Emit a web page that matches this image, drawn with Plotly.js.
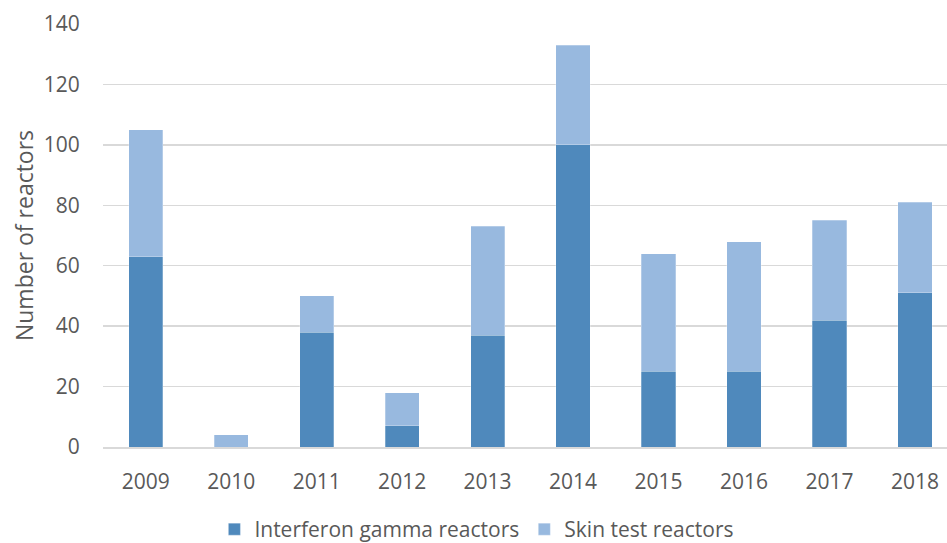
<!DOCTYPE html>
<html>
<head>
<meta charset="utf-8">
<script src="https://cdn.plot.ly/plotly-3.0.1.min.js"></script>
<style>html,body{margin:0;padding:0;background:#fff;}#chart{width:947px;height:543px;}</style>
</head>
<body>
<div id="chart"></div>
<script>
var years = ["2009","2010","2011","2012","2013","2014","2015","2016","2017","2018"];
var interferonGamma = [63, 0, 38, 7, 37, 100, 25, 25, 42, 51];
var skinTest = [42, 4, 12, 11, 36, 33, 39, 43, 33, 30];
var yTicks = [0, 20, 40, 60, 80, 100, 120, 140];

var fontFam = '"Open Sans", "Noto Sans", sans-serif';
var traces = [
  {type:'bar', name:'Interferon gamma reactors', x:years, y:interferonGamma,
   marker:{color:'#4f89bc', line:{color:'rgba(255,255,255,0.35)', width:0.75}}, width:0.4},
  {type:'bar', name:'Skin test reactors', x:years, y:skinTest,
   marker:{color:'#98b9df', line:{color:'rgba(255,255,255,0.35)', width:0.75}}, width:0.4}
];
var layout = {
  width:947, height:543,
  margin:{l:103, r:0, t:24, b:96, autoexpand:false},
  barmode:'stack',
  paper_bgcolor:'#fff', plot_bgcolor:'#fff',
  font:{family:fontFam, color:'#595959', size:20},
  xaxis:{type:'category', range:[-0.5, 9.375], showgrid:false,
    showline:true, linecolor:'#d9d9d9', linewidth:1.5,
    ticks:'outside', ticklen:15, tickcolor:'rgba(0,0,0,0)',
    tickfont:{size:21, color:'#595959'}, fixedrange:true},
  yaxis:{range:[0,140], tickvals:yTicks, showgrid:true, gridcolor:'#d9d9d9', gridwidth:1.5,
    zeroline:false, showline:false,
    ticks:'outside', ticklen:18, tickcolor:'rgba(0,0,0,0)',
    tickfont:{size:21, color:'#595959'},
    title:{text:'Number of reactors', font:{size:23, color:'#595959'}, standoff:3}},
  legend:{orientation:'h', x:0.443, xanchor:'center', y:-0.195, yanchor:'middle',
    font:{size:21, color:'#595959'}, traceorder:'normal', itemwidth:30},
  showlegend:true
};
Plotly.newPlot('chart', traces, layout, {displayModeBar:false, staticPlot:true});
</script>
</body>
</html>
